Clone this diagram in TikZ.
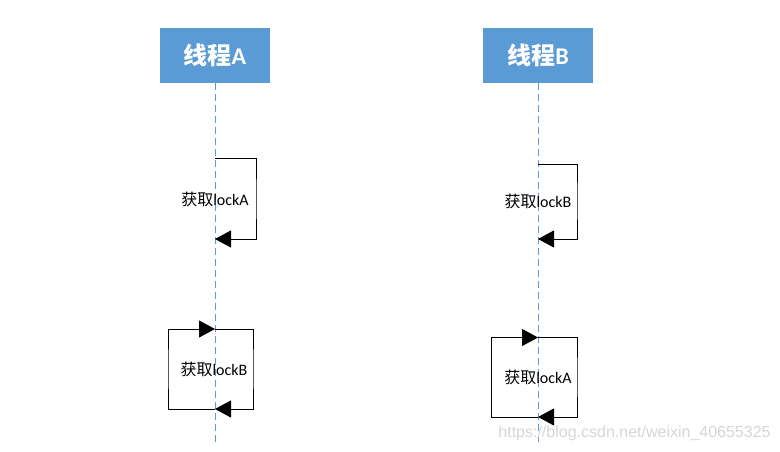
\documentclass[tikz,border=0pt]{standalone}
\usepackage{fontspec}
\setmainfont{Carlito}
\newfontfamily\cjk{Noto Sans CJK SC}
\newfontfamily\urlfont{Liberation Sans}
\usetikzlibrary{arrows.meta}
\definecolor{hdblue}{HTML}{5B9BD5}
\definecolor{wmgray}{HTML}{D6D6D6}

\begin{document}
\begin{tikzpicture}[x=1pt,y=-1pt,
    thread/.style={fill=hdblue,text=white,minimum width=110pt,minimum height=55pt,inner sep=0pt,font=\fontsize{24}{28}\selectfont\bfseries},
    life/.style={hdblue,line width=1pt,dash pattern=on 7pt off 4pt},
    msg/.style={black,line width=1pt,-{Triangle[length=16pt,width=17pt]}},
    lbl/.style={inner sep=0pt,font=\fontsize{16}{19}\selectfont},
    wmark/.style={text=wmgray,inner sep=0pt,font=\urlfont\fontsize{16}{19}\selectfont}]
    \useasboundingbox (0,0) rectangle (780,451);
    % threads and lifelines
    \node[thread] (tA) at (215,55.5) {{\cjk 线程}A};
    \node[thread] (tB) at (538,55.5) {{\cjk 线程}B};
    \coordinate (endA) at (215,446);
    \coordinate (endB) at (538,446);
    \draw[life] (tA.south)--(endA);
    \draw[life] (tB.south)--(endB);
    % first lock
    \coordinate (a1s) at (215,158.5);
    \coordinate (a1e) at (215,239);
    \draw[msg] (a1s)-|(256,199)|-(a1e);
    \node[lbl] (la1) at (215,199) {{\cjk 获取}lockA};
    \coordinate (b1s) at (538,164);
    \coordinate (b1e) at (538,239);
    \draw[msg] (b1s)-|(577,200)|-(b1e);
    \node[lbl] (lb1) at (538,201) {{\cjk 获取}lockB};
    % second lock
    \coordinate (a2t) at (215,329);
    \coordinate (a2b) at (215,409);
    \draw[msg] (a2t)-|(253,369)|-(a2b);
    \draw[msg] (a2b)-|(168,369)|-(a2t);
    \node[lbl] (la2) at (214,369) {{\cjk 获取}lockB};
    \coordinate (b2t) at (538,337.5);
    \coordinate (b2b) at (538,417);
    \draw[msg] (b2t)-|(577,377)|-(b2b);
    \draw[msg] (b2b)-|(491.5,377)|-(b2t);
    \node[lbl] (lb2) at (538,377) {{\cjk 获取}lockA};
    \node[wmark] (url) at (634.5,433) {https://blog.csdn.net/weixin\_40655325};
\end{tikzpicture}
\end{document}
